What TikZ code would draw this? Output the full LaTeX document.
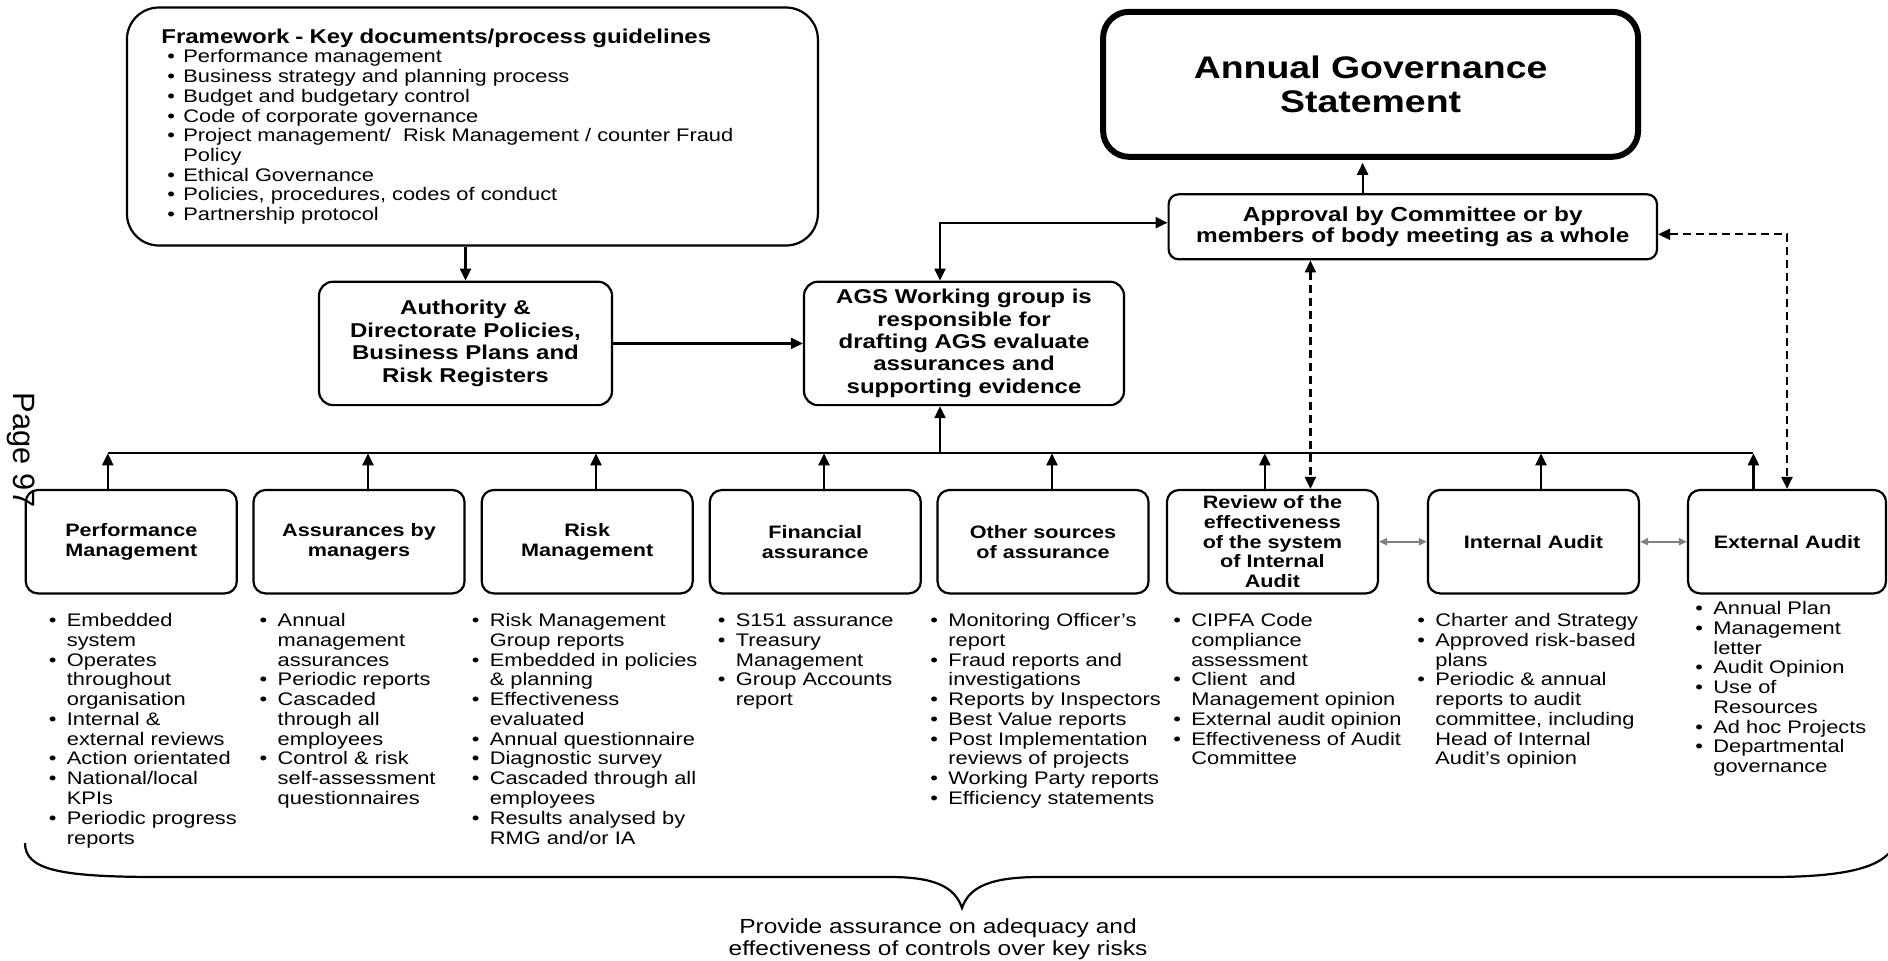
\documentclass[tikz,border=0pt]{standalone}
\usepackage{fontspec}
\setmainfont{Liberation Sans}[FakeStretch=1.2]
\newfontfamily\pagefont{Liberation Sans}
\usetikzlibrary{arrows.meta}

% bullet line with hanging indent
\newcommand\bitem[2][9pt]{\par\noindent\hangindent=#1\hangafter=1\makebox[#1][l]{\textbullet}#2\par}

\tikzset{
  box/.style={draw, line width=1.1pt, rounded corners=7pt, align=center, inner sep=2pt,
    font=\bfseries\fontsize{10}{11.2}\selectfont},
  abox/.style={box, rounded corners=6pt, inner ysep=1pt, minimum height=51.7pt,
    font=\bfseries\fontsize{9}{9.9}\selectfont},
  blist/.style={anchor=north west, inner sep=0pt, text width=130pt, align=left,
    font=\fontsize{9.1}{9.88}\selectfont},
  arr/.style={line width=1.1pt, -{Triangle[length=6pt,width=5.5pt]}},
  arrs/.style={line width=1.1pt, {Triangle[length=6pt,width=5.5pt]}-{Triangle[length=6pt,width=5.5pt]}},
  darr/.style={arrs, dash pattern=on 4pt off 2.5pt},
  garr/.style={draw=gray, line width=1pt, {Triangle[length=4pt,width=3.5pt]}-{Triangle[length=4pt,width=3.5pt]}}
}

\begin{document}
\begin{tikzpicture}[x=0.5pt, y=-0.5pt]
\useasboundingbox (0,0) rectangle (1888,960);

% top part
\node[box, rounded corners=16pt, minimum width=345.5pt, minimum height=119pt,
  text width=311pt, inner xsep=17pt, align=left, font=\fontsize{9.1}{9.85}\selectfont]
  (fw) at (472.4,126.5) {%
  {\bfseries\fontsize{10}{10}\selectfont Framework - Key documents/process guidelines\par}
  \leftskip=3pt
  \bitem[8pt]{Performance management}
  \bitem[8pt]{Business strategy and planning process}
  \bitem[8pt]{Budget and budgetary control}
  \bitem[8pt]{Code of corporate governance}
  \bitem[8pt]{Project management/\ \ Risk Management / counter Fraud\newline Policy}
  \bitem[8pt]{Ethical Governance}
  \bitem[8pt]{Policies, procedures, codes of conduct}
  \bitem[8pt]{Partnership protocol}};
\node[box, line width=3pt, rounded corners=13pt, minimum width=267.5pt, minimum height=72.5pt,
  font=\bfseries\fontsize{15.6}{16.7}\selectfont] (stmt) at (1370.6,84.3)
  {Annual Governance\\Statement};
\node[box, rounded corners=5pt, minimum width=244.2pt, minimum height=32.5pt,
  font=\bfseries\fontsize{10.15}{10.5}\selectfont] (appr) at (1412.8,226.8)
  {Approval by Committee or by\\members of body meeting as a whole};
\node[box, minimum width=146.5pt, minimum height=61.7pt] (auth) at (465.5,343.4)
  {Authority \&\\Directorate Policies,\\Business Plans and\\Risk Registers};
\node[box, minimum width=160pt, minimum height=61.7pt] (agsw) at (964,343.4)
  {AGS Working group is\\responsible for\\drafting AGS evaluate\\assurances and\\supporting evidence};

% sources of assurance
\foreach \nm/\x/\w/\txt in {pm/131.3/105.5pt/{Performance\\Management},
    am/359/105.5pt/{Assurances by\\managers}, rm/587.2/105.5pt/{Risk\\Management},
    fa/815.3/105.5pt/{Financial\\assurance}, os/1043/105.5pt/{Other sources\\of assurance},
    rv/1272.4/105.5pt/{Review of the\\effectiveness\\of the system\\of Internal\\Audit},
    ia/1533.5/105.5pt/{Internal Audit}, ea/1787/99pt/{External Audit}}
  \node[abox, minimum width=\w] (\nm) at (\x,541.7) {\txt};

\foreach \nm/\x in {pm/107.8, am/368, rm/596, fa/824, os/1052, rv/1264.8, ia/1541, ea/1753.4}{
  \coordinate (bus-\nm) at (\x,453.3);
  \draw[arr] (\nm.north -| bus-\nm) -- (bus-\nm);
}
\draw[line width=1.1pt] (bus-pm) -- (bus-ea);
\coordinate (bus-agsw) at (940,453.3);
\draw[arr] (bus-agsw) -- (bus-agsw |- agsw.south);

% connectors
\draw[arr] (fw.south -| auth.north) -- (auth.north);
\draw[arr] (auth.east) -- (agsw.west);
\coordinate (agsw-up) at (940,222.7);
\draw[arrs] (agsw-up |- agsw.north) -- (agsw-up) -- (agsw-up -| appr.west);
\coordinate (stmt-in) at ([xshift=-4pt,yshift=-1.5pt]stmt.south);
\draw[arr] (stmt-in |- appr.north) -- (stmt-in);
\coordinate (rv-in) at ([xshift=19pt]rv.north);
\draw[darr] (rv-in |- appr.south) -- (rv-in);
\draw[darr] ([yshift=-3.75pt]appr.east) -| (ea.north);
\draw[garr] (rv.east) -- (ia.west);
\draw[garr] (ia.east) -- (ea.west);

% lists
\node[blist] (pm-list) at (48.5,606.5) {%
  \bitem{Embedded\newline system}
  \bitem{Operates\newline throughout\newline organisation}
  \bitem{Internal \&\newline external reviews}
  \bitem{Action orientated}
  \bitem{National/local\newline KPIs}
  \bitem{Periodic progress\newline reports}};
\node[blist] (am-list) at (259.3,606.5) {%
  \bitem{Annual\newline management\newline assurances}
  \bitem{Periodic reports}
  \bitem{Cascaded\newline through all\newline employees}
  \bitem{Control \& risk\newline self-assessment\newline questionnaires}};
\node[blist] (rm-list) at (471.4,606.5) {%
  \bitem{Risk Management\newline Group reports}
  \bitem{Embedded in policies\newline \& planning}
  \bitem{Effectiveness\newline evaluated}
  \bitem{Annual questionnaire}
  \bitem{Diagnostic survey}
  \bitem{Cascaded through all\newline employees}
  \bitem{Results analysed by\newline RMG and/or IA}};
\node[blist] (fa-list) at (717.4,606.5) {%
  \bitem{S151 assurance}
  \bitem{Treasury\newline Management}
  \bitem{Group Accounts\newline report}};
\node[blist] (os-list) at (930,606.5) {%
  \bitem{Monitoring Officer’s\newline report}
  \bitem{Fraud reports and\newline investigations}
  \bitem{Reports by Inspectors}
  \bitem{Best Value reports}
  \bitem{Post Implementation\newline reviews of projects}
  \bitem{Working Party reports}
  \bitem{Efficiency statements}};
\node[blist] (rv-list) at (1173,606.5) {%
  \bitem{CIPFA Code\newline compliance\newline assessment}
  \bitem{Client\ \ and\newline Management opinion}
  \bitem{External audit opinion}
  \bitem{Effectiveness of Audit\newline Committee}};
\node[blist] (ia-list) at (1417,606.5) {%
  \bitem{Charter and Strategy}
  \bitem{Approved risk-based\newline plans}
  \bitem{Periodic \& annual\newline reports to audit\newline committee, including\newline Head of Internal\newline Audit’s opinion}};
\node[blist] (ea-list) at (1695,594.5) {%
  \bitem{Annual Plan}
  \bitem{Management\newline letter}
  \bitem{Audit Opinion}
  \bitem{Use of\newline Resources}
  \bitem{Ad hoc Projects}
  \bitem{Departmental\newline governance}};

% brace and note
\draw[line width=1.1pt] (25,843) .. controls (25,870) and (60,877) .. (160,877) -- (890,877)
  .. controls (935,877) and (955,887) .. (962,908) .. controls (969,887) and (990,877) .. (1040,877)
  -- (1770,877) .. controls (1850,877) and (1878,866) .. (1890,852);
\node[font=\fontsize{10.2}{10.85}\selectfont, align=center] (note) at (938,939)
  {Provide assurance on adequacy and\\effectiveness of controls over key risks};

\node[font=\pagefont\fontsize{15.4}{16}\selectfont, rotate=-90] (pg) at (21.5,450) {Page 97};
\end{tikzpicture}
\end{document}
